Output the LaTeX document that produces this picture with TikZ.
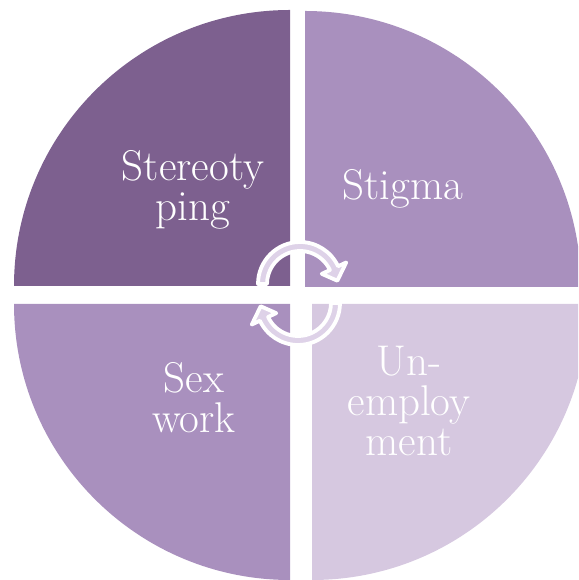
\documentclass[tikz,border=0pt]{standalone}
\begin{document}
\begin{tikzpicture}[x=1pt,y=1pt,
  quad/.style={draw=none},
  lbl/.style={text=white,align=center,font=\fontsize{43}{40}\selectfont,inner sep=0pt},
  cyc/.style={draw=white,line width=3.8pt,fill=cyclefill,line join=round}]
\definecolor{qdark}{RGB}{125,96,143}
\definecolor{qmid}{RGB}{169,144,190}
\definecolor{qlight}{RGB}{214,200,224}
\definecolor{cyclefill}{RGB}{222,210,232}
\useasboundingbox (0,0) rectangle (578,580);
\clip (0,0) rectangle (578,580);
% quadrants
\path[quad,fill=qdark] (290,294) -- (14,294) arc[start angle=180,end angle=90,radius=276] -- cycle;
\path[quad,fill=qmid] (305,293) -- (305,569) arc[start angle=90,end angle=0,radius=276] -- cycle;
\path[quad,fill=qmid] (290,276) -- (14,276) arc[start angle=180,end angle=270,radius=276] -- cycle;
\path[quad,fill=qlight] (312,276) -- (588,276) arc[start angle=0,end angle=-90,radius=276] -- cycle;
% labels
\node[lbl] (stereo) at (193,390) {Stereoty\\ping};
\node[lbl,anchor=base] (stigma) at (403,380) {Stigma};
\node[lbl] (sex) at (194,182) {Sex\\work};
\node[lbl] (unemp) at (409,179) {Un-\\employ\\ment};
% cycle arrows
\coordinate (cu) at (300,296);
\coordinate (cl) at (298,277);
\draw[cyc,shift={(cu)}] (180:42) arc[start angle=180,end angle=25,radius=42]
  -- (25:51) -- (5:37.5) -- (25:24) -- (25:33)
  arc[start angle=25,end angle=180,radius=33] -- cycle;
\draw[cyc,shift={(cl)},rotate=180] (180:42) arc[start angle=180,end angle=25,radius=42]
  -- (25:51) -- (5:37.5) -- (25:24) -- (25:33)
  arc[start angle=25,end angle=180,radius=33] -- cycle;
\end{tikzpicture}
\end{document}
